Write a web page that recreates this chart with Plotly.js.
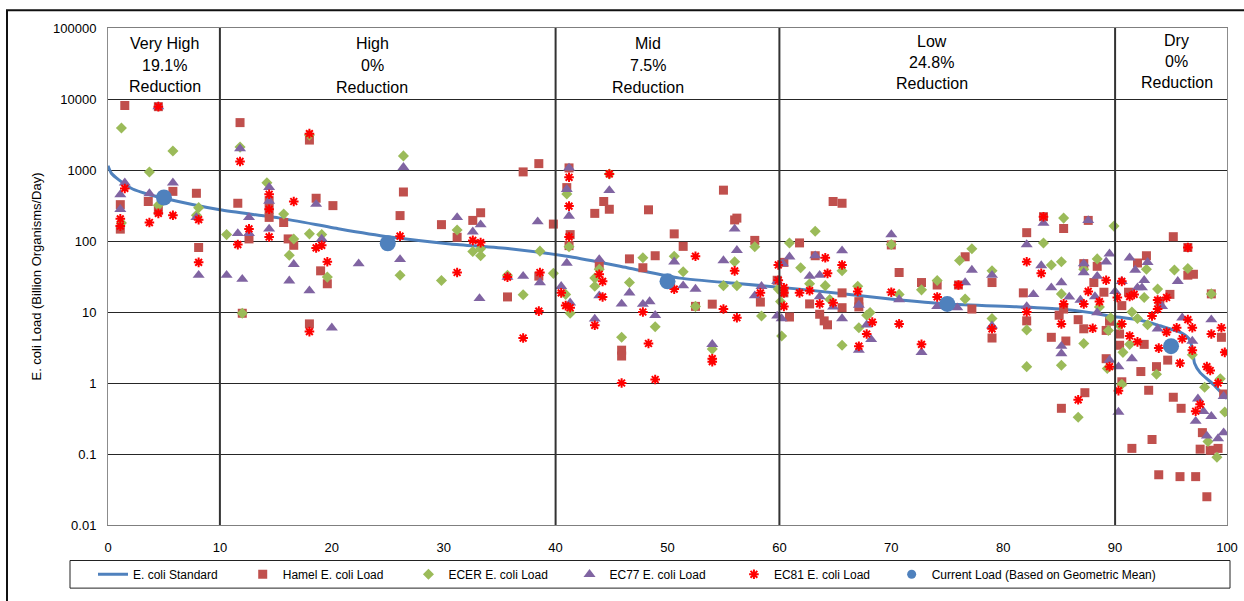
<!DOCTYPE html>
<html><head><meta charset="utf-8">
<script src="https://cdn.plot.ly/plotly-3.0.1.min.js"></script>
<style>html,body{margin:0;padding:0;background:#fff}#chart{width:1244px;height:601px}</style>
</head><body><div id="chart"></div>
<script>
// ---------- DATA ----------
const zoneNames = ['Very High', 'High', 'Mid', 'Low', 'Dry'];
const zoneReductions = ['19.1%', '0%', '7.5%', '24.8%', '0%'];
const zoneBounds = [10, 40, 60, 90];

const seriesNames = ['E. coli Standard', 'Hamel E. coli Load', 'ECER E. coli Load', 'EC77 E. coli Load', 'EC81 E. coli Load', 'Current Load (Based on Geometric Mean)'];

const yTickVals = [0.01, 0.1, 1, 10, 100, 1000, 10000, 100000];
const yTickText = ['0.01', '0.1', '1', '10', '100', '1000', '10000', '100000'];

const standardX = [0, 0.3, 1, 2.2, 3.5, 5, 10, 15.4, 20.7, 25.2, 30.6, 35.9, 41.3, 46.4, 51.1, 56.5, 61.8, 69.9, 75, 81.5, 85.1, 87.8, 89.5, 92.2, 94, 95.8, 96.6, 96.9, 97.1, 97.6, 98.8, 99.6, 100];
const standardY = [1150, 900, 720, 540, 460, 400, 275, 210, 148, 114, 91, 78, 60, 42, 30, 25, 21, 15.3, 13, 11.8, 11, 9.8, 8.8, 7.7, 6.4, 5.2, 4.2, 3.1, 1.9, 1.4, 0.95, 0.7, 0.6];

const hamelX = [1.1,1.1,1.5,3.6,4.5,4.5,5.8,7.9,8.1,
  11.6,11.8,12.0,12.6,14.4,14.4,14.4,15.7,16.1,16.6,18.0,18.0,18.6,19.0,19.6,20.1,26.1,26.4,29.8,31.2,32.6,33.3,35.7,37.1,38.5,38.5,39.8,
  41.0,41.2,41.3,41.2,43.5,43.9,44.3,44.8,45.9,45.9,46.6,47.8,48.3,48.9,50.6,51.4,52.5,54.0,55.0,56.0,56.2,57.8,58.3,59.8,60.4,60.4,60.9,
  61.8,62.7,63.6,64.0,64.3,63.2,64.8,65.6,65.6,65.6,67.1,67.1,70.0,70.7,72.7,74.1,76.0,76.6,77.2,79.0,79.0,81.8,82.1,82.1,83.6,84.3,85.4,85.4,85.0,85.6,85.2,87.2,87.3,86.7,87.2,88.4,88.1,87.6,89.0,89.2,89.5,89.2,
  90.6,90.4,90.4,90.6,91.2,91.5,92.0,92.8,92.3,92.6,93.0,93.3,93.7,93.9,94.0,94.9,94.7,95.2,95.2,95.8,95.9,96.5,96.5,97.0,97.2,97.6,97.8,98.2,98.5,98.6,99.2,99.5,99.7];
const hamelY = [325,147,8100,360,270,7800,500,470,81,
  340,4650,9.6,107,370,280,215,182,107,87,2640,6.8,400,38,25,315,228,490,170,113,195,250,16.3,940,1230,32,173,
  565,1070,123,86,245,45,360,280,2.9,2.4,56,42,275,62,126,84,12,12.9,520,198,210,102,13.8,28,50,18.6,8.5,
  94,13,9.3,7.5,6.6,62,360,340,18.6,11.5,14,11.8,88,36,26,24,24,60,11,26,4.3,18.6,131,7.5,220,4.4,150,11,9,3.9,0.44,48,0.73,7.8,5.8,44,26,195,19,5.5,7.4,2.2,
  1.04,4.9,3.4,12.3,19,0.12,49,62,1.45,3.5,0.79,0.16,1.7,0.051,14,17.7,2.1,115,0.63,0.048,0.44,81,33,34,0.048,0.117,0.2,0.025,0.113,18,0.12,4.4,0.7];

const ecerX = [1.2,1.2,3.7,4.5,5.8,8.1,7.9,
  10.6,11.8,12.0,14.2,15.7,16.6,16.2,18.0,18.0,19.1,19.6,26.4,26.1,29.8,31.2,32.6,33.3,33.3,35.7,37.1,38.6,39.8,
  41.0,41.2,40.9,41.3,43.5,43.9,43.5,44.8,45.9,46.6,47.8,48.9,50.6,51.4,52.5,54.0,55.0,56.2,56.0,57.8,58.4,59.9,60.1,60.2,
  60.9,61.9,62.7,63.2,64.1,64.5,65.6,65.6,67.0,68.1,67.8,67.1,70.0,70.7,72.7,74.1,76.1,76.6,77.2,79.0,79.0,82.1,82.1,83.6,84.3,85.2,85.4,85.2,85.2,86.7,87.2,87.2,88.4,88.6,89.3,89.9,89.6,89.4,
  90.4,90.6,90.7,91.5,92.0,92.8,92.9,92.6,93.8,91.3,93.7,95.3,96.5,96.9,98.6,98.0,98.3,99.1,99.4,99.8];
const ecerY = [3900,180,940,320,1850,295,230,
  123,2100,9.6,660,240,107,63,126,3100,123,31,1580,33,27.7,143,71,62,78,33,17.5,72,35,
  460,83,17.7,9.6,30,40,23,880,4.4,26,58,6.2,61,37,12,3.0,23.5,23.5,51,83,8.8,21,14,4.6,
  94,42,25,137,23.5,15,38,3.4,23,9.8,9,6.0,89,17.7,20.5,27.7,53,15.2,78,38,8.1,5.6,1.7,94,46,51,210,18,1.78,0.33,40,3.6,56,11.8,1.6,162,8.3,5.5,
  6.5,0.96,2.7,10,8.1,40,6.6,16,21,3.5,1.33,39,41,2.5,18,0.87,0.15,0.09,1.15,0.39];

const ec77X = [1.5,1.1,1.1,3.7,4.5,5.8,7.9,8.1,
  10.6,11.6,12.0,11.8,12.6,12.6,14.4,14.4,14.4,16.6,16.2,18.0,18.6,19.1,20.0,22.4,26.4,26.1,31.2,32.6,33.3,33.2,35.7,37.1,38.4,38.6,
  41.2,41.0,41.2,41.0,40.5,41.3,43.9,44.8,43.9,43.5,45.9,46.6,47.8,48.4,48.9,50.6,51.4,52.5,54.0,55.0,56.0,56.2,57.8,58.4,59.8,60.3,59.8,60.2,
  60.9,63.2,62.7,63.6,63.6,64.8,65.6,65.6,67.1,67.8,68.2,67.1,70.0,70.7,72.7,74.1,75.9,76.6,77.2,79.0,79.0,82.1,82.1,82.7,83.6,83.4,84.3,85.2,85.9,85.2,85.2,86.9,87.2,87.2,87.6,88.2,88.4,88.4,89.2,89.5,89.5,
  90.0,90.6,90.3,90.3,91.3,91.8,92.0,92.4,92.6,92.9,91.5,93.8,94.2,95.6,96.0,96.9,97.4,97.2,97.9,98.2,98.6,98.6,99.2,99.7,99.7];
const ec77Y = [660,450,280,465,7800,660,215,33,
  33,128,29,2000,215,128,570,365,148,47,27.5,20,330,107,6.0,48,1090,55,215,135,170,15.5,31,32,187,26,
  1070,535,225,49,23,13.5,55,515,17,8.0,13,18.6,12.9,14,9,51,23.5,21,3.5,53,148,74,17,23,27,48,8.8,8.1,
  60,62,32,33,16.5,11.8,73,8.1,12.5,6.6,4.1,2.9,123,15,2.7,12,11.5,26,39,33,6.4,89,12,17.7,178,45,22,26,16.3,3.3,2.6,14.7,48,36,195,16.5,32,9.8,51,66,2.1,
  19.5,27,1.7,0.39,58,39,22,22,28,50,2.2,5.8,12,27,8.3,3.9,0.6,0.29,0.4,0.18,0.34,7.8,0.165,0.2,0.65];

const ec81X = [1.5,1.1,1.1,3.7,4.5,4.5,5.8,8.1,8.1,
  11.6,11.8,12.6,14.4,14.4,14.4,16.6,18.0,18.0,18.6,19.1,19.6,26.1,31.2,32.6,33.3,35.7,37.1,38.6,38.5,
  41.2,41.2,41.2,40.5,40.9,41.3,43.9,44.2,44.2,43.5,44.8,45.9,47.8,48.3,48.9,50.6,52.5,55.0,56.0,56.2,54.0,54.0,58.3,59.9,59.9,60.4,60.4,60.4,
  61.8,62.7,63.6,64.1,64.3,64.8,65.6,67.0,68.3,67.8,67.1,70.0,70.7,72.7,74.1,76.0,79.0,82.1,82.1,83.6,83.4,85.4,85.2,86.7,87.2,87.6,88.0,88.6,89.2,89.5,
  90.2,90.6,90.6,90.3,91.3,91.7,91.3,92.0,93.3,93.8,93.8,93.9,94.6,94.6,95.5,96.0,95.8,96.5,96.9,96.9,96.5,97.2,97.6,98.2,98.5,98.6,99.2,99.5,99.8];
const ec81Y = [550,205,162,182,245,7800,230,200,50,
  89,1320,148,455,280,114,360,3250,5.3,80,87,51,117,36,102,95,31,4.3,36,10.3,
  790,310,114,18.6,12.3,11.5,34,27,16.3,6.5,880,1.0,10,3.6,1.12,21,61,11,38,8.3,2.2,2.0,18.6,46,28,22,18.6,12,
  18.6,20,13,58,35,13.5,46,19.5,7.2,4.9,3.3,19,6.8,3.5,16.3,24,5.8,10,51,220,35,13,6.8,0.58,13,19.5,5.9,14,28,1.7,
  16,27,6.8,0.78,16.5,17.7,4.6,3.8,8.8,14.7,11,3.1,16,5.2,6.0,4.2,1.9,81,6,2.9,7.8,0.4,0.5,1.7,1.5,4.9,1.0,6.0,2.7];

const currentX = [5, 25, 50, 75, 95];
const currentY = [410, 93, 27, 13, 3.3];

// ---------- STYLE / LAYOUT ----------
const FONT = 'Liberation Sans, Arial, sans-serif';
const PL = 108, PR = 1227, PT = 28, PB = 532;
const py2paper = p => (PB - p) / (PB - PT);
const px2paper = p => (p - PL) / (PR - PL);

// legend spacing: trailing no-break spaces so entries sit where they do in the reference
const legendPad = [6, 6, 5, 7, 5, 0];
const legendName = i => seriesNames[i] + '\u00a0'.repeat(legendPad[i]);

const labelCenters = [5.06, 23.6, 48.3, 73.6, 95.5];
const labelLineY = [[44, 66, 87], [44, 66, 88], [44, 66, 88], [42, 63, 84], [41, 62, 83]];

const traces = [
  {x: standardX, y: standardY, name: legendName(0), type: 'scatter', mode: 'lines',
   line: {color: '#4F81BD', width: 3, shape: 'spline', smoothing: 0.6}},
  {x: hamelX, y: hamelY, name: legendName(1), type: 'scatter', mode: 'markers',
   marker: {symbol: 'square', size: 9, color: '#C0504D'}},
  {x: ecerX, y: ecerY, name: legendName(2), type: 'scatter', mode: 'markers',
   marker: {symbol: 'diamond', size: 8.5, color: '#9BBB59'}},
  {x: ec77X, y: ec77Y, name: legendName(3), type: 'scatter', mode: 'markers',
   marker: {symbol: 'triangle-up', size: 10.5, color: '#8064A2'}},
  {x: ec81X, y: ec81Y, name: legendName(4), type: 'scatter', mode: 'markers',
   marker: {symbol: 'asterisk-open', size: 8, color: '#FF0000', line: {color: '#FF0000', width: 2}}},
  {x: currentX, y: currentY, name: legendName(5), type: 'scatter', mode: 'markers',
   showlegend: false, marker: {symbol: 'circle', size: 16, color: '#4F81BD'}},
  {x: [null], y: [null], name: legendName(5), type: 'scatter', mode: 'markers',
   marker: {symbol: 'circle', size: 9, color: '#4F81BD'}}
];

const shapes = zoneBounds.map(b => ({
  type: 'line', xref: 'x', yref: 'paper', x0: b, x1: b, y0: 0, y1: 1,
  line: {color: '#333333', width: 2}
}));
// outer chart border
shapes.push({type: 'rect', xref: 'paper', yref: 'paper',
  x0: px2paper(7), x1: px2paper(1252), y0: py2paper(610), y1: py2paper(10),
  line: {color: '#111', width: 2}, fillcolor: 'rgba(0,0,0,0)'});
// legend box
shapes.push({type: 'rect', xref: 'paper', yref: 'paper',
  x0: px2paper(70), x1: px2paper(1230), y0: py2paper(596), y1: py2paper(568),
  line: {color: '#222', width: 1}, fillcolor: 'rgba(0,0,0,0)'});

const annotations = [];
zoneNames.forEach((n, i) => {
  const lines = [n, zoneReductions[i], 'Reduction'];
  lines.forEach((t, j) => {
    annotations.push({text: t, xref: 'x', yref: 'paper', x: labelCenters[i], y: py2paper(labelLineY[i][j]),
      xanchor: 'center', yanchor: 'middle', showarrow: false, font: {family: FONT, size: 16, color: '#000'}});
  });
});

const layout = {
  width: 1244, height: 601,
  margin: {l: PL, r: 1244 - PR, t: PT, b: 601 - PB, pad: 0},
  paper_bgcolor: '#fff', plot_bgcolor: '#fff',
  font: {family: FONT, size: 13, color: '#000'},
  hovermode: false,
  showlegend: true,
  legend: {orientation: 'h', x: px2paper(93), xanchor: 'left', y: py2paper(582), yanchor: 'middle',
    borderwidth: 0, bgcolor: 'rgba(0,0,0,0)', font: {family: FONT, size: 12, color: '#000'},
    itemclick: false, itemdoubleclick: false},
  xaxis: {range: [0, 100], tick0: 0, dtick: 10, showgrid: false, zeroline: false,
    showline: true, mirror: true, linecolor: '#7f7f7f', linewidth: 1, ticks: '',
    ticklabelstandoff: 10, tickfont: {family: FONT, size: 13, color: '#000'}},
  yaxis: {type: 'log', range: [-2, 5], tickvals: yTickVals, ticktext: yTickText,
    showgrid: true, gridcolor: '#262626', gridwidth: 1, zeroline: false,
    showline: true, mirror: true, linecolor: '#8c8c8c', linewidth: 1, ticks: '',
    ticklabelstandoff: 8, tickfont: {family: FONT, size: 13, color: '#000'},
    title: {text: 'E. coli Load (Billion Organisms/Day)', font: {family: FONT, size: 13, color: '#000'}, standoff: 8}},
  shapes: shapes,
  annotations: annotations
};

Plotly.newPlot('chart', traces, layout, {staticPlot: true, displayModeBar: false});
</script></body></html>
